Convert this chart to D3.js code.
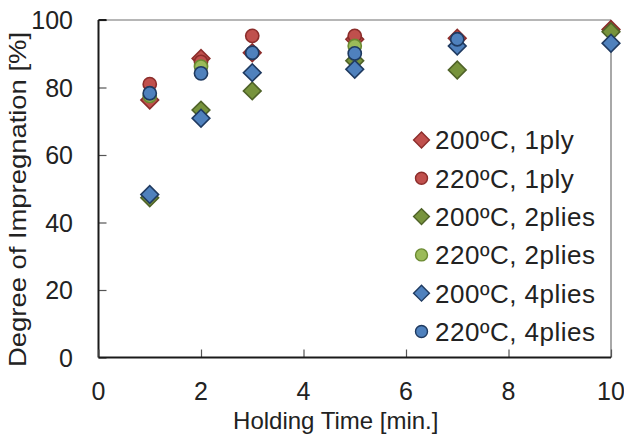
<!DOCTYPE html>
<html>
<head>
<meta charset="utf-8">
<script src="https://cdn.jsdelivr.net/npm/d3@7/dist/d3.min.js"></script>
<style>
  html, body { margin: 0; padding: 0; background: #fff; }
  svg { display: block; font-family: "Liberation Sans", Arial, sans-serif; }
</style>
</head>
<body>
<svg id="chart" width="624" height="439"></svg>
<script>
// Holding time (min) vs degree of impregnation (%)
const seriesNames = ["200ºC, 1ply", "220ºC, 1ply", "200ºC, 2plies", "220ºC, 2plies", "200ºC, 4plies", "220ºC, 4plies"];
const seriesShapes = ["diamond", "circle", "diamond", "circle", "diamond", "circle"];
const seriesFill = ["#C0504D", "#C0504D", "#77933C", "#9BBB59", "#4F81BD", "#4F81BD"];
const seriesStroke = ["#8C2D2B", "#8C2D2B", "#4F6228", "#6B8A32", "#1F3A60", "#1F3A60"];

const t200_1ply = [[1, 76.3], [2, 88.6], [3, 90.3], [5, 94.3], [7, 94.6], [10, 97.2]];
const t220_1ply = [[1, 81.0], [2, 87.6], [3, 95.3], [5, 95.3]];
const t200_2plies = [[1, 47.3], [2, 73.3], [3, 79.0], [5, 87.9], [7, 85.2], [10, 96.5]];
const t220_2plies = [[1, 77.5], [2, 86.2], [5, 92.3]];
const t200_4plies = [[1, 48.3], [2, 70.9], [3, 84.4], [5, 85.4], [7, 92.3], [10, 93.1]];
const t220_4plies = [[1, 78.3], [2, 84.2], [3, 90.3], [5, 90.1], [7, 94.3]];
const seriesData = [t200_1ply, t220_1ply, t200_2plies, t220_2plies, t200_4plies, t220_4plies];

const xTicks = [0, 2, 4, 6, 8, 10];
const yTicks = [0, 20, 40, 60, 80, 100];

const svg = d3.select("#chart");
const pLeft = 98.5, pRight = 611, pTop = 20, pBottom = 357.5;

const x = d3.scaleLinear().domain([0, 10]).range([pLeft, pRight]);
const y = d3.scaleLinear().domain([0, 100]).range([pBottom, pTop]);

// frame: top and right borders
svg.append("line").attr("x1", pLeft).attr("x2", pRight).attr("y1", pTop).attr("y2", pTop)
  .attr("stroke", "#6e6e6e").attr("stroke-width", 1.2);
svg.append("line").attr("x1", pRight).attr("x2", pRight).attr("y1", pTop).attr("y2", pBottom)
  .attr("stroke", "#6e6e6e").attr("stroke-width", 1.2);

// y axis
const yAxis = svg.append("g").attr("transform", `translate(${pLeft},0)`)
  .call(d3.axisRight(y).tickValues(yTicks).tickSize(8).tickFormat(""));
yAxis.select(".domain").remove();
yAxis.selectAll(".tick line").attr("stroke", "#555").attr("stroke-width", 1.2);
svg.append("line").attr("x1", pLeft).attr("x2", pLeft).attr("y1", pTop).attr("y2", pBottom)
  .attr("stroke", "#1a1a1a").attr("stroke-width", 2);
svg.append("line").attr("x1", pLeft).attr("x2", pLeft + 8).attr("y1", pTop).attr("y2", pTop)
  .attr("stroke", "#1a1a1a").attr("stroke-width", 2);
svg.append("g").selectAll("text").data(yTicks).join("text")
  .attr("x", 73).attr("y", d => y(d)).attr("dy", "0.36em")
  .attr("text-anchor", "end").attr("font-size", 25).attr("fill", "#222")
  .text(d => d);

// x axis
const xAxis = svg.append("g").attr("transform", `translate(0,${pBottom})`)
  .call(d3.axisTop(x).tickValues(xTicks).tickSize(8).tickFormat(""));
xAxis.select(".domain").remove();
xAxis.selectAll(".tick line").attr("stroke", "#555").attr("stroke-width", 1.2);
svg.append("line").attr("x1", pLeft).attr("x2", pRight).attr("y1", pBottom).attr("y2", pBottom)
  .attr("stroke", "#1a1a1a").attr("stroke-width", 2);
svg.append("g").selectAll("text").data(xTicks).join("text")
  .attr("x", d => x(d)).attr("y", 400)
  .attr("text-anchor", "middle").attr("font-size", 25).attr("fill", "#222")
  .text(d => d);

// axis titles
svg.append("text").attr("x", (pLeft + pRight) / 2 - 19).attr("y", 429)
  .attr("text-anchor", "middle").attr("font-size", 24).attr("fill", "#222")
  .text("Holding Time [min.]");
svg.append("text").attr("transform", "translate(26,199.5) rotate(-90)")
  .attr("text-anchor", "middle").attr("font-size", 24).attr("fill", "#222")
  .attr("textLength", 335).attr("lengthAdjust", "spacingAndGlyphs")
  .text("Degree of Impregnation [%]");

// marker drawing
const diamond = d3.symbol().type(d3.symbolSquare).size(12.5 * 12.5);
function drawMarker(g, shape, fill, stroke) {
  if (shape === "circle") {
    g.append("circle").attr("r", 6.6).attr("fill", fill).attr("stroke", stroke).attr("stroke-width", 1.6);
  } else {
    g.append("path").attr("d", diamond()).attr("transform", "rotate(45)")
      .attr("fill", fill).attr("stroke", stroke).attr("stroke-width", 1.6);
  }
}

const plot = svg.append("g");
seriesData.forEach((pts, i) => {
  pts.forEach(p => {
    const g = plot.append("g").attr("transform", `translate(${x(p[0])},${y(p[1])})`);
    drawMarker(g, seriesShapes[i], seriesFill[i], seriesStroke[i]);
  });
});

// legend
const legend = svg.append("g");
seriesNames.forEach((name, i) => {
  const ly = 140 + i * 38.3;
  const g = legend.append("g").attr("transform", `translate(421.5,${ly})`);
  if (seriesShapes[i] === "circle") {
    g.append("circle").attr("r", 6).attr("fill", seriesFill[i]).attr("stroke", seriesStroke[i]).attr("stroke-width", 1.4);
  } else {
    g.append("path").attr("d", d3.symbol().type(d3.symbolSquare).size(11.2 * 11.2)()).attr("transform", "rotate(45)")
      .attr("fill", seriesFill[i]).attr("stroke", seriesStroke[i]).attr("stroke-width", 1.4);
  }
  legend.append("text").attr("x", 435).attr("y", ly).attr("dy", "0.36em")
    .attr("font-size", 26).attr("letter-spacing", 0.5).attr("fill", "#222").text(name);
});
</script>
</body>
</html>
